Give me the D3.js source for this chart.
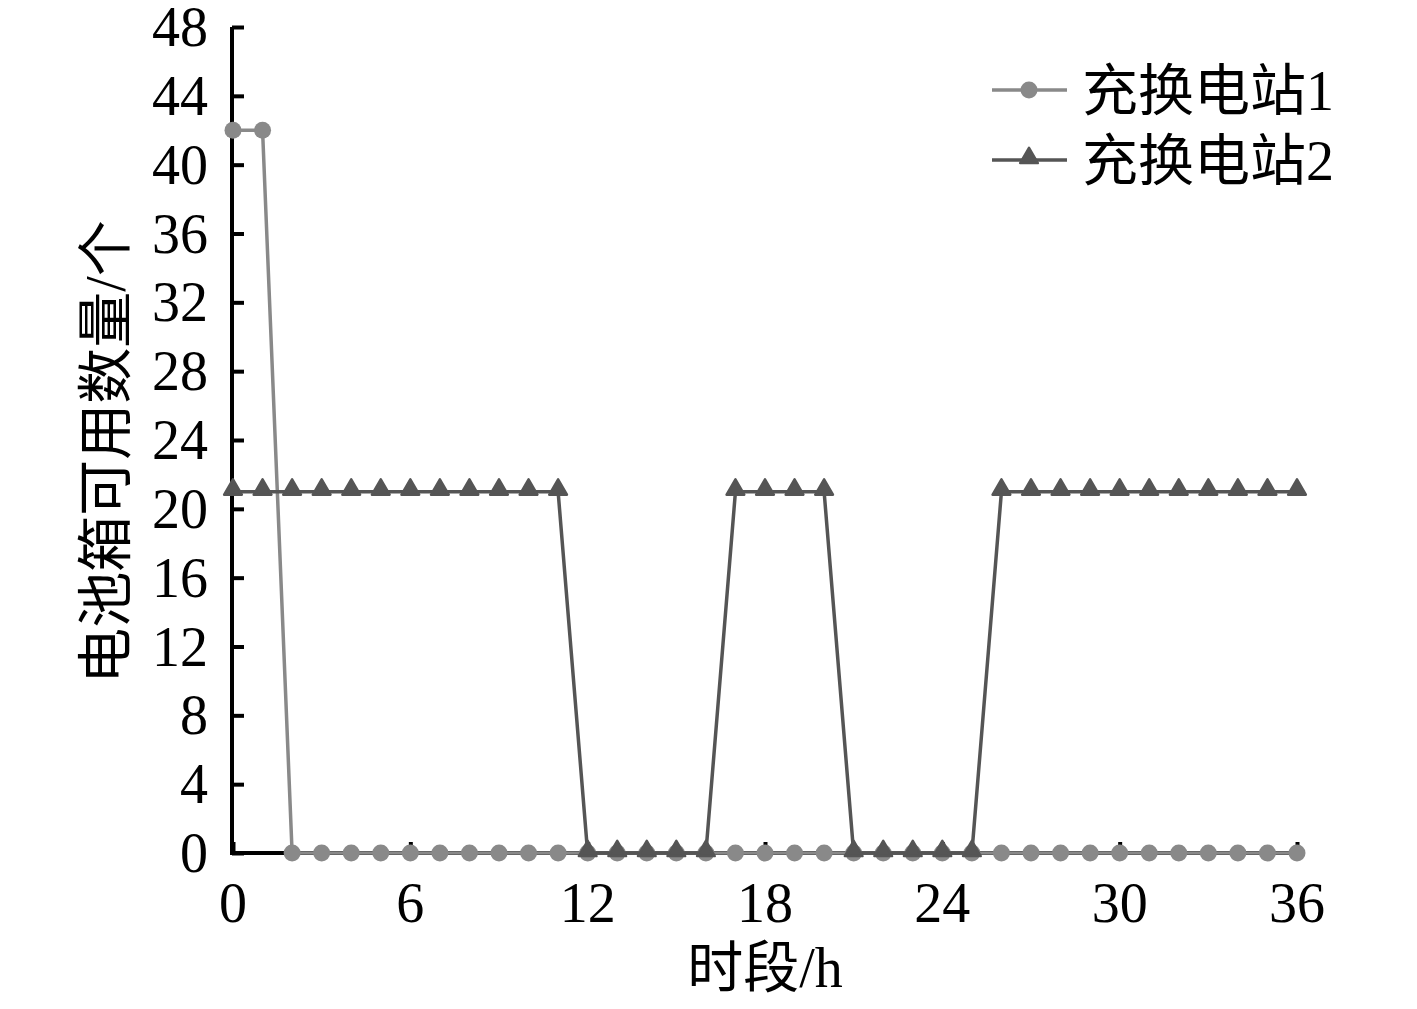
<!DOCTYPE html>
<html><head><meta charset="utf-8">
<script src="https://cdn.jsdelivr.net/npm/d3@7"></script>
<style>body{margin:0;background:#fff}svg{display:block}</style>
</head><body>
<svg id="c" width="1417" height="1009"></svg>
<script>
const hours = [0,1,2,3,4,5,6,7,8,9,10,11,12,13,14,15,16,17,18,19,20,21,22,23,24,25,26,27,28,29,30,31,32,33,34,35,36];
const station1 = [42,42,0,0,0,0,0,0,0,0,0,0,0,0,0,0,0,0,0,0,0,0,0,0,0,0,0,0,0,0,0,0,0,0,0,0,0];
const station2 = [21,21,21,21,21,21,21,21,21,21,21,21,0,0,0,0,0,21,21,21,21,0,0,0,0,0,21,21,21,21,21,21,21,21,21,21,21];
const seriesNames = ["充换电站1","充换电站2"];
const xTicks = [0,6,12,18,24,30,36];
const yTicks = [0,4,8,12,16,20,24,28,32,36,40,44,48];
const xTitle = "时段/h";
const yTitle = "电池箱可用数量/个";

const svg = d3.select("#c");
const font = "'Liberation Serif','Times New Roman','Noto Sans CJK SC',serif";
const fs = 56;
const x = d3.scaleLinear().domain([0,36]).range([233,1297]);
const y = d3.scaleLinear().domain([0,48]).range([853,27]);
const c1 = "#898989", c2 = "#555555";

// axes
const gy = svg.append("g").attr("transform","translate(232,0)")
  .call(d3.axisRight(y).tickValues(yTicks).tickSize(12).tickFormat(""));
gy.select(".domain").attr("stroke","#000").attr("stroke-width",4).attr("d","M0,"+y(48)+"V"+y(0));
gy.selectAll(".tick line").attr("stroke","#000").attr("stroke-width",4);
const gx = svg.append("g").attr("transform","translate(0,853)")
  .call(d3.axisTop(x).tickValues(xTicks).tickSize(11).tickFormat(""));
gx.select(".domain").attr("stroke","#000").attr("stroke-width",4).attr("d","M230,0H"+x(36));
gx.selectAll(".tick line").attr("stroke","#000").attr("stroke-width",4);

// tick labels
svg.append("g").selectAll("text").data(yTicks).join("text")
  .attr("x",208).attr("y",d=>y(d)).attr("dy","0.34em").attr("text-anchor","end")
  .attr("font-family",font).attr("font-size",fs).text(d=>d);
svg.append("g").selectAll("text").data(xTicks).join("text")
  .attr("x",d=>x(d)).attr("y",922).attr("text-anchor","middle")
  .attr("font-family",font).attr("font-size",fs).text(d=>d);

// titles
svg.append("text").attr("x",765).attr("y",987).attr("text-anchor","middle")
  .attr("font-family",font).attr("font-size",fs).text(xTitle);
svg.append("text").attr("transform","translate(125,452) rotate(-90)").attr("text-anchor","middle")
  .attr("font-family",font).attr("font-size",fs).text(yTitle);

const line = d3.line().x((d,i)=>x(hours[i])).y(d=>y(d));
const tri = d3.symbol().type(d3.symbolTriangle).size(135);

// series 1
svg.append("path").attr("d",line(station1)).attr("fill","none").attr("stroke",c1).attr("stroke-width",3.5);
svg.append("g").selectAll("circle").data(station1).join("circle")
  .attr("cx",(d,i)=>x(hours[i])).attr("cy",d=>y(d)).attr("r",8.5).attr("fill",c1);
// series 2
svg.append("path").attr("d",line(station2)).attr("fill","none").attr("stroke",c2).attr("stroke-width",3.5);
svg.append("g").selectAll("path").data(station2).join("path")
  .attr("d",tri).attr("transform",(d,i)=>`translate(${x(hours[i])},${y(d)-2})`)
  .attr("fill",c2).attr("stroke",c2).attr("stroke-width",2.5).attr("stroke-linejoin","round");

// legend
const leg = svg.append("g");
[[c1,90],[c2,160]].forEach(([col,ly],k)=>{
  leg.append("line").attr("x1",992).attr("x2",1067).attr("y1",ly).attr("y2",ly)
    .attr("stroke",col).attr("stroke-width",3.5);
  if(k===0) leg.append("circle").attr("cx",1029).attr("cy",ly).attr("r",8.5).attr("fill",col);
  else leg.append("path").attr("d",tri).attr("transform",`translate(1029,${ly-2})`)
    .attr("fill",col).attr("stroke",col).attr("stroke-width",2.5).attr("stroke-linejoin","round");
  leg.append("text").attr("x",1082).attr("y",ly).attr("dy","0.36em")
    .attr("font-family",font).attr("font-size",fs).text(seriesNames[k]);
});
</script>
</body></html>
